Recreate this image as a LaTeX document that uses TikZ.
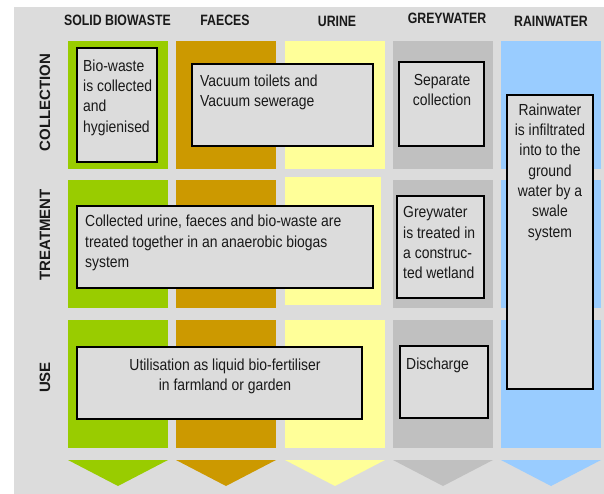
\documentclass[tikz,border=0pt]{standalone}
\usepackage{fontspec}
\setmainfont{Liberation Sans}[FakeStretch=0.87]
\newfontfamily\hdrfont{Liberation Sans}[FakeStretch=0.82]
\newfontfamily\sidefont{Liberation Sans}
\definecolor{bgc}{HTML}{DCDCDC}
\definecolor{cgreen}{HTML}{99CC00}
\definecolor{corange}{HTML}{CC9900}
\definecolor{cyellow}{HTML}{FFFF99}
\definecolor{cgrey}{HTML}{C0C0C0}
\definecolor{cblue}{HTML}{99CCFF}
\begin{document}
\begin{tikzpicture}[x=1pt,y=-1pt,
  hdr/.style={font=\hdrfont\bfseries\fontsize{15}{17}\selectfont, anchor=base, inner sep=0pt, text=black!90},
  side/.style={font=\sidefont\bfseries\fontsize{15}{17}\selectfont, rotate=90, anchor=center, inner sep=0pt, text=black!90},
  box/.style={draw=black, line width=1.6pt, fill=bgc, anchor=north west, inner sep=0pt, outer sep=0pt},
  txt/.style={font=\fontsize{16}{20.3}\selectfont, inner sep=0pt, text=black!90},
]
\useasboundingbox (0,0) rectangle (604,494);
\fill[bgc] (14,7) rectangle (604,494);
% columns: collection row
\fill[cgreen]  (68,41) rectangle (168,169);
\fill[corange] (176,41) rectangle (276,169);
\fill[cyellow] (285,41) rectangle (385,169);
\fill[cgrey]   (393,41) rectangle (493,169);
\fill[cblue]   (501,41) rectangle (601,169);
% treatment row
\fill[cgreen]  (68,180) rectangle (168,308);
\fill[corange] (176,180) rectangle (276,308);
\fill[cyellow] (285,177) rectangle (381,305);
\fill[cgrey]   (393,180) rectangle (493,308);
\fill[cblue]   (501,180) rectangle (601,308);
% use row
\fill[cgreen]  (68,320) rectangle (168,448);
\fill[corange] (176,320) rectangle (276,448);
\fill[cyellow] (285,320) rectangle (385,448);
\fill[cgrey]   (393,320) rectangle (493,448);
\fill[cblue]   (501,320) rectangle (601,448);
% arrows
\fill[cgreen]  (68,460) -- (168,460) -- (118,486) -- cycle;
\fill[corange] (176,460) -- (276,460) -- (226,486) -- cycle;
\fill[cyellow] (285,460) -- (385,460) -- (335,486) -- cycle;
\fill[cgrey]   (393,460) -- (493,460) -- (443,486) -- cycle;
\fill[cblue]   (501,460) -- (601,460) -- (551,486) -- cycle;
% headers
\node[hdr] (h1) at (117.5,26) {SOLID BIOWASTE};
\node[hdr] (h2) at (225,26) {FAECES};
\node[hdr] (h3) at (337,26.5) {URINE};
\node[hdr] (h4) at (447,24) {GREYWATER};
\node[hdr] (h5) at (551,26.5) {RAINWATER};
% side labels
\node[side] (s1) at (45,102.5) {COLLECTION};
\node[side] (s2) at (45,235) {TREATMENT};
\node[side] (s3) at (45,377.5) {USE};
% boxes
\node[box, minimum width=80pt, minimum height=114pt] (b1) at (77,48) {};
\node[box, minimum width=181pt, minimum height=82pt] (b2) at (192,64) {};
\node[box, minimum width=85pt, minimum height=84pt] (b3) at (399,62) {};
\node[box, minimum width=86pt, minimum height=294pt] (b4) at (507,95) {};
\node[box, minimum width=296pt, minimum height=82pt] (b5) at (77,206) {};
\node[box, minimum width=87pt, minimum height=102pt] (b6) at (397,196) {};
\node[box, minimum width=285pt, minimum height=72pt] (b7) at (77,347) {};
\node[box, minimum width=88pt, minimum height=72pt] (b8) at (400,346) {};
% texts
\node[txt, anchor=north west, align=left] (t1) at (83,56.8) {\strut Bio-waste\\is collected\\and\\hygienised};
\node[txt, anchor=north west, align=left] (t2) at (200,71.8) {\strut Vacuum toilets and\\Vacuum sewerage};
\node[txt, anchor=north, align=center] (t3) at (442,70.8) {\strut Separate\\collection};
\node[txt, anchor=north, align=center] (t4) at (550,100.8) {\strut Rainwater\\is infiltrated\\into to the\\ground\\water by a\\swale\\system};
\node[txt, anchor=north west, align=left] (t5) at (85,212.5) {\strut Collected urine, faeces and bio-waste are\\treated together in an anaerobic biogas\\system};
\node[txt, anchor=north west, align=left] (t6) at (403,203.5) {\strut Greywater\\is treated in\\a construc-\\ted wetland};
\node[txt, anchor=north, align=center] (t7) at (225,355.8) {\strut Utilisation as liquid bio-fertiliser\\in farmland or garden};
\node[txt, anchor=north west, align=left] (t8) at (406,354.8) {\strut Discharge};
\end{tikzpicture}
\end{document}
